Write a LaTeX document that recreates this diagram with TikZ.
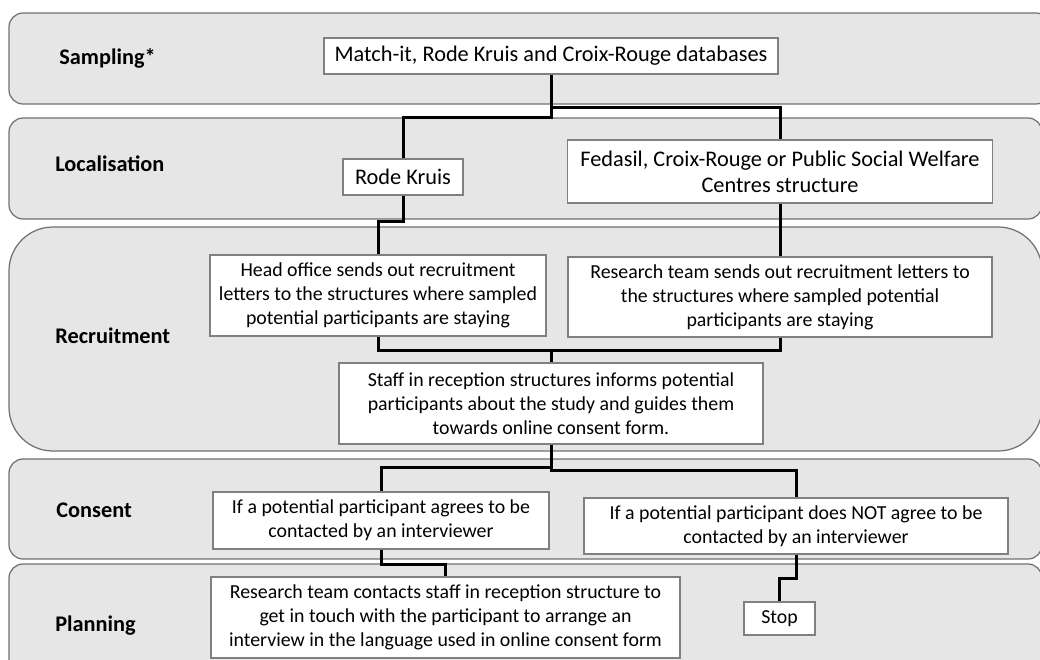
\documentclass[tikz,border=0pt]{standalone}
\usepackage{fontspec}
\setmainfont{Carlito}
\definecolor{bandfill}{RGB}{230,230,230}
\definecolor{bandline}{RGB}{112,112,112}
\definecolor{boxline}{RGB}{128,128,128}
\begin{document}
\begin{tikzpicture}[x=0.02cm,y=-0.02cm,
  band/.style={draw=bandline,fill=bandfill,line width=0.7pt,rounded corners=8pt},
  bandlabel/.style={anchor=west,inner sep=0pt,font=\fontsize{12.7pt}{14.7pt}\selectfont\bfseries},
  stepbox/.style 2 args={draw=boxline,fill=white,line width=0.6pt,align=center,
    inner sep=1pt,font=\fontsize{11.3pt}{13.6pt}\selectfont,
    minimum width=#1*0.02cm,minimum height=#2*0.02cm},
  bigtext/.style={font=\fontsize{12.7pt}{14.7pt}\selectfont},
  link/.style={line width=1.7pt}]
\clip (0,0) rectangle (1040,659);
% phase bands
\draw[band] (9,13) rectangle (1050,104);
\draw[band] (9,118) rectangle (1042,219);
\draw[band,rounded corners=25pt] (9,227) rectangle (1042,451);
\draw[band] (9,459) rectangle (1042,559);
\draw[band] (9,564) rectangle (1042,700);
\node[bandlabel] (lsamp) at (59,58) {Sampling*};
\node[bandlabel] (lloc) at (55,164) {Localisation};
\node[bandlabel] (lrec) at (55,336) {Recruitment};
\node[bandlabel] (lcons) at (56,510) {Consent};
\node[bandlabel] (lplan) at (55,626) {Planning};
% steps
\node[stepbox={454}{36},bigtext] (db) at (551,56) {Match-it, Rode Kruis and Croix-Rouge databases};
\node[stepbox={120}{36},bigtext] (rk) at (403,177) {Rode Kruis};
\node[stepbox={425}{63},bigtext] (fed) at (780,171.5) {Fedasil, Croix-Rouge or Public Social Welfare\\Centres structure};
\node[stepbox={336}{81}] (head) at (378,295.5) {Head office sends out recruitment\\letters to the structures where sampled\\potential participants are staying};
\node[stepbox={424}{80}] (rt) at (780,297) {Research team sends out recruitment letters to\\the structures where sampled potential\\participants are staying};
\node[stepbox={424}{81}] (staff) at (551,403.5) {Staff in reception structures informs potential\\participants about the study and guides them\\towards online consent form.};
\node[stepbox={336}{57}] (agree) at (381,520.5) {If a potential participant agrees to be\\contacted by an interviewer};
\node[stepbox={424}{56}] (notagree) at (796,526) {If a potential participant does NOT agree to be\\contacted by an interviewer};
\node[stepbox={469}{81}] (plan) at (445.5,617.5) {Research team contacts staff in reception structure to\\get in touch with the participant to arrange an\\interview in the language used in online consent form};
\node[stepbox={71}{33}] (stop) at (779.5,618.5) {Stop};
% connectors
\draw[link] (db.south) -- ++(0,33) -| (fed.north);
\draw[link] (db.south) -- ++(0,43) -| (rk.north);
\draw[link] (rk.south) -- ++(0,26) -| (head.north);
\draw[link] (fed.south) -- (fed.south |- rt.north);
\draw[link] (head.south) -- ++(0,14) -| (staff.north);
\draw[link] (rt.south) -- ++(0,13) -| (staff.north);
\draw[link] (staff.south) -- ++(0,26) -| (notagree.north);
\draw[link] (staff.south) -- ++(0,23) -| (agree.north);
\draw[link] (agree.south) -- ++(0,15) -| (plan.north);
\draw[link] (notagree.south) -- ++(0,24) -| (stop.north);
\end{tikzpicture}
\end{document}
